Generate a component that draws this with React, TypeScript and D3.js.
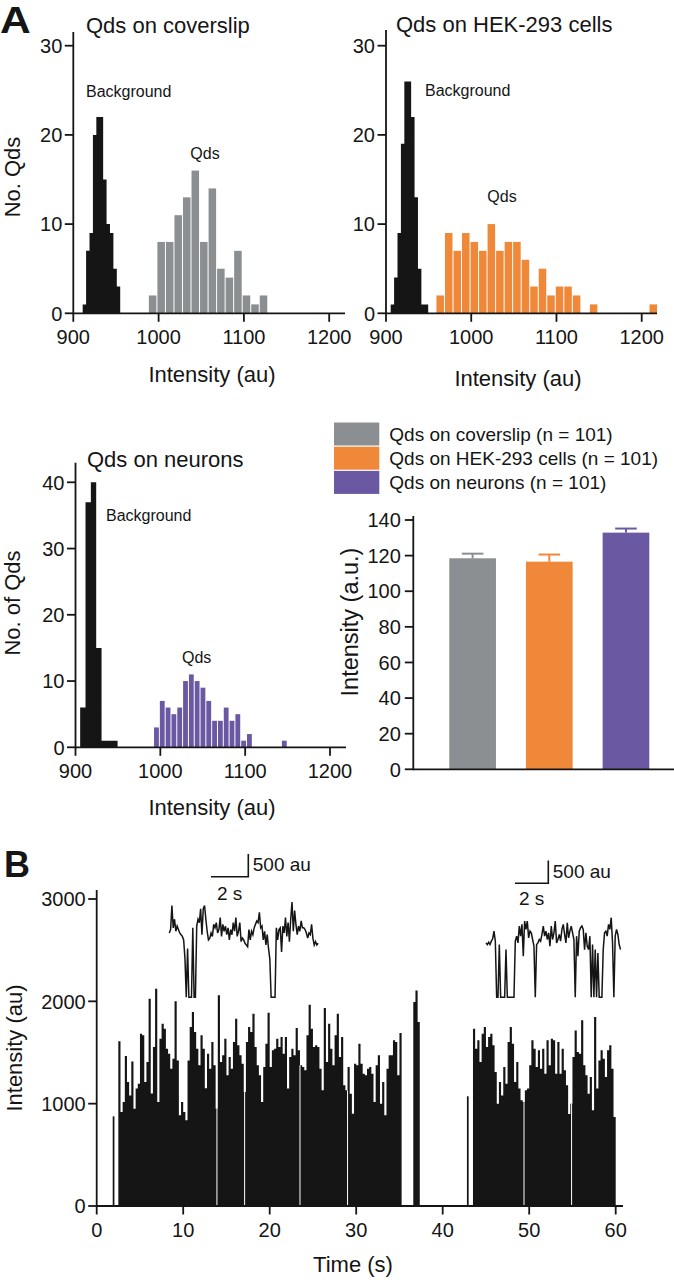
import * as d3 from "d3";

const FONT = "'Liberation Sans', Arial, Helvetica, sans-serif";
const INK = "#151515";
const GRAY = "#8c8f91";
const ORANGE = "#ef8838";
const PURPLE = "#6a58a3";
const TICK = 8.5;

// ---- panel A histograms: [first bin start (au), bin width (au)] + counts ----
const coverBgBins = [911, 4];
const coverBgCounts = [1, 7, 9, 20, 22, 22, 15, 10, 9, 5, 3];
const coverQdBins = [988, 10];
const coverQdCounts = [2, 8, 8, 11, 13, 16, 8, 14, 5, 4, 7, 2, 1, 2];

const hekBgBins = [905.5, 4];
const hekBgCounts = [1, 4, 9, 19, 26, 26, 22, 13, 5, 1, 1];
const hekQdBins = [958.6, 10];
const hekQdCounts = [2, 9, 7, 9, 8, 7, 10, 7, 8, 8, 6, 3, 5, 2, 3, 3, 2, 0, 1, 0, 0, 0, 0, 0, 0, 1];

const neuBgBins = [905.5, 6.3];
const neuBgCounts = [6, 37, 40, 15, 1, 1, 1];
const neuQdBins = [992, 6.85];
const neuQdCounts = [3, 7, 6, 5, 6, 10, 11, 10, 9, 7, 4, 4, 6, 4, 5, 1, 2, 0, 0, 0, 0, 0, 1];

const histXTicks = [900, 1000, 1100, 1200];
const histYTicks30 = [0, 10, 20, 30];
const histYTicks40 = [0, 10, 20, 30, 40];

// ---- panel A bar chart ----
const barGroups = ["Qds on coverslip", "Qds on HEK-293 cells", "Qds on neurons"];
const barN = [101, 101, 101];
const barMeans = [118.5, 116.6, 132.9];
const barSem = [2.6, 4.0, 2.3];
const barColors = [GRAY, ORANGE, PURPLE];
const barYTicks = [0, 20, 40, 60, 80, 100, 120, 140];

// ---- panel B trace (au per 0.25 s bin) ----
const traceDt = 0.25;
const traceSegStarts = [2.5, 36.6, 43.5];
const traceSeg1 = [
  1609, 918, 1016, 1466, 1212, 1081, 1413, 951, 1147, 1195,
  1684, 1668, 1212, 1407, 2026, 1100, 1554, 2124, 1016, 1635,
  1782, 1733, 1537, 1489, 1342, 1440, 2000, 1423, 886, 1016,
  918, 837, 1423, 1749, 1896, 1700, 1537, 1375, 1668, 1537,
  1150, 1489, 1342, 1603, 1375, 951, 2059, 1407, 1472, 1635,
  1277, 1456, 1342, 1603, 1831, 1570, 1472, 1391, 1114, 1603,
  1749, 1700, 1879, 1554, 1375, 1277, 1016, 1358, 1586, 1889,
  1358, 1521, 1537, 1635, 1554, 1651, 1489, 1651, 1147, 1456,
  1537, 1472, 1739, 1521, 1375, 1358, 1326, 1668, 1967, 1733,
  1554, 1570, 1554, 1342, 1130, 1935, 1407, 1782, 1537, 1375,
  1668, 1879, 1456, 1651, 1179, 1130, 1358, 1098, 902, 1391,
  1375, 1586, 1391, 1293, 1277, 1342, 1358, 1293, 1016, 1375,
  1472, 1000, 1212, 886, 1342, 1472, 1472, 1619, 1603, 1277,
  1690,
];
const traceSeg2 = [1993, 2107, 1798];
const traceSeg3 = [
  1733, 1537, 1619, 1407, 1684, 1749, 1554, 1651, 1684, 1570,
  1309, 1000, 1212, 1081, 1358, 1195, 1603, 1749, 1586, 1212,
  1407, 1147, 1033, 1016, 1130, 1147, 1375, 1619, 1537, 1358,
  1521, 1342, 1537, 1293, 1619, 1375, 1635, 1619, 1293, 1603,
  1293, 1537, 1326, 1179, 900, 1000, 1456, 1716, 1505, 1489,
  1814, 1375, 1277, 1098, 1261, 935, 1847, 1147, 1423, 1521,
  1440, 1261, 1521, 1570, 1342, 870,
];
const traceSingleTimes = [1.85, 42.8];
const traceSingleValues = [876, 1072];
const traceGapTimes = [13.9, 17.1, 23.5, 29.0, 49.4, 54.9];
const traceXTicks = [0, 10, 20, 30, 40, 50, 60];
const traceYTicks = [0, 1000, 2000, 3000];

// ---- panel B insets (au, fixed sample interval) ----
const insetLeftDt = 0.07;
const insetLeftValues = [
  1417, 1492, 2023, 1530, 1720, 1455, 1568, 1492, 1417, 1379,
  1341, 1265, 848, 0, 1076, 0, 0, 0, 1530, 0,
  0, 1568, 1720, 1644, 1947, 1379, 1947, 2023, 1720, 1455,
  1265, 1303, 1417, 1341, 1606, 1530, 1644, 1417, 1492, 1758,
  1341, 1606, 1455, 1568, 1379, 1530, 1265, 1492, 1379, 1644,
  1455, 1758, 1341, 1455, 1644, 1227, 1303, 1265, 1189, 1152,
  1114, 1492, 1265, 1455, 1379, 1530, 1606, 1682, 1644, 1871,
  1530, 1568, 1265, 1455, 1152, 1379, 1076, 848, 0, 0,
  0, 0, 1530, 1265, 1492, 1530, 1000, 1568, 1417, 1758,
  1341, 1644, 1227, 1720, 2099, 1455, 1909, 1606, 1379, 1568,
  1455, 1682, 1530, 1530, 1492, 1417, 1303, 1417, 1379, 1606,
  1303, 1152, 1227, 1152, 1189,
];
const insetRightDt = 0.08;
const insetRightValues = [
  1199, 1162, 1214, 1162, 1236, 1288, 1458, 1236, 0, 0,
  1162, 0, 0, 0, 0, 1051, 0, 0, 0, 0,
  0, 0, 1236, 1347, 1199, 1569, 1347, 1606, 903, 1680,
  1495, 1680, 1310, 1458, 1421, 1273, 1125, 0, 1162, 1199,
  1273, 1236, 1384, 1569, 1347, 1458, 1273, 1421, 1125, 1569,
  1273, 1421, 1680, 1199, 1273, 1384, 1236, 1495, 1606, 1384,
  1199, 1643, 1310, 1458, 1569, 1421, 1273, 0, 1347, 903,
  1458, 1532, 1569, 1495, 1051, 1421, 1125, 1051, 1347, 0,
  1162, 0, 1051, 0, 977, 0, 0, 0, 1051, 1421,
  1458, 1347, 1606, 1495, 1754, 1199, 0, 1347, 1495, 1384,
  1162, 1051,
];

// ---- scales ----
const xTL = d3.scaleLinear().domain([900, 1200]).range([73.3, 329.2]);
const yTL = d3.scaleLinear().domain([0, 30]).range([313.3, 45.7]);
const xTR = d3.scaleLinear().domain([900, 1200]).range([386, 641.7]);
const yTR = d3.scaleLinear().domain([0, 30]).range([313.3, 45.7]);
const xBL = d3.scaleLinear().domain([900, 1200]).range([75.5, 330]);
const yBL = d3.scaleLinear().domain([0, 40]).range([747.3, 482.3]);
const yBar = d3.scaleLinear().domain([0, 140]).range([769.3, 520]);
const xBar = d3.scaleBand<string>().domain(barGroups).range([434.3, 664.3]).paddingInner(0.391).paddingOuter(0.1955);
const xB = d3.scaleLinear().domain([0, 60]).range([96.7, 615.7]);
const yB = d3.scaleLinear().domain([0, 3000]).range([1206, 899]);
const xInL = d3.scaleLinear().domain([0, 2]).range([169.3, 206.6]);
const xInR = d3.scaleLinear().domain([0, 2]).range([486, 519.3]);
const yIn = d3.scaleLinear().domain([0, 500]).range([997.3, 974.6]);

// stepped outline of a run of equal-width bins
function stepArea(xs: any, ys: any, start: number, w: number, counts: number[]) {
  const pts = counts.map((c, i) => [start + i * w, c] as [number, number]);
  pts.push([start + counts.length * w, counts[counts.length - 1]]);
  return d3.area<[number, number]>()
    .x((d) => xs(d[0]))
    .y0(ys(0))
    .y1((d) => ys(d[1]))
    .curve(d3.curveStepAfter)(pts) || "";
}

function Hist({ xs, ys, bins, counts, fill, gap }: any) {
  const [start, w] = bins;
  if (!gap) return <path d={stepArea(xs, ys, start, w, counts)} fill={fill} />;
  return (
    <g>
      {counts.map((c: number, i: number) => {
        if (!c) return null;
        const x0 = xs(start + i * w);
        const x1 = xs(start + (i + 1) * w);
        return <rect key={i} x={x0 + gap / 2} width={x1 - x0 - gap} y={ys(c)} height={ys(0) - ys(c)} fill={fill} />;
      })}
    </g>
  );
}

function AxisLeft({ scale, x, ticks, top }: any) {
  const y0 = scale.range()[0];
  return (
    <g>
      <line x1={x} x2={x} y1={top} y2={y0 + 0.9} stroke={INK} strokeWidth={1.8} />
      {ticks.map((t: number) => (
        <g key={t}>
          <line x1={x - TICK} x2={x} y1={scale(t)} y2={scale(t)} stroke={INK} strokeWidth={1.8} />
          <text x={x - TICK - 2.5} y={scale(t)} dy="0.36em" textAnchor="end" fontSize={20}>{t}</text>
        </g>
      ))}
    </g>
  );
}

function AxisBottom({ scale, y, ticks, left, right }: any) {
  return (
    <g>
      <line x1={left} x2={right} y1={y} y2={y} stroke={INK} strokeWidth={1.8} />
      {ticks.map((t: number) => (
        <g key={t}>
          <line x1={scale(t)} x2={scale(t)} y1={y} y2={y + TICK} stroke={INK} strokeWidth={1.8} />
          <text x={scale(t)} y={y + 31} textAnchor="middle" fontSize={20}>{t}</text>
        </g>
      ))}
    </g>
  );
}

function traceValueAt(t: number) {
  const segs = [traceSeg1, traceSeg2, traceSeg3];
  for (let s = 0; s < segs.length; s++) {
    const i = Math.floor((t - traceSegStarts[s]) / traceDt);
    if (i >= 0 && i < segs[s].length) return segs[s][i];
  }
  return 0;
}

function Inset({ xs, values, dt, corner, barLift, labelDrop }: any) {
  const line = d3.line<number>().x((_, i) => xs(i * dt)).y((v) => yIn(v));
  const hLen = xs(2) - xs(0);
  const vLen = yIn(0) - yIn(500);
  const [cx, cy] = corner;
  return (
    <g>
      <path d={line(values) || ""} fill="none" stroke={INK} strokeWidth={1.5} strokeLinejoin="miter" />
      <polyline points={`${cx - hLen},${cy} ${cx},${cy} ${cx},${cy - vLen}`} fill="none" stroke={INK} strokeWidth={1.6} />
      <text x={cx + 4.5} y={cy - barLift} fontSize={19}>500 au</text>
      <text x={cx - hLen / 2} y={cy + labelDrop} textAnchor="middle" fontSize={19}>2 s</text>
    </g>
  );
}

export default function App() {
  const segs = [traceSeg1, traceSeg2, traceSeg3];
  return (
    <div>
      <style>{`body{margin:0}`}</style>
      <svg width={674} height={1280} style={{ display: "block", background: "#fff" }}
        fontFamily={FONT} fill={INK}>
        {/* panel letters */}
        <text x={0} y={33} fontSize={37} fontWeight="bold" transform="translate(0,33) scale(1.15,1) translate(0,-33)">A</text>
        <text x={4} y={877} fontSize={36} fontWeight="bold">B</text>

        {/* top-left histogram */}
        <text x={86} y={33} fontSize={22}>Qds on coverslip</text>
        <Hist xs={xTL} ys={yTL} bins={coverBgBins} counts={coverBgCounts} fill={INK} gap={0} />
        <Hist xs={xTL} ys={yTL} bins={coverQdBins} counts={coverQdCounts} fill={GRAY} gap={1} />
        <AxisLeft scale={yTL} x={73.3} ticks={histYTicks30} top={32} />
        <AxisBottom scale={xTL} y={313.3} ticks={histXTicks} left={73.3} right={345} />
        <text x={86} y={97} fontSize={16}>Background</text>
        <text x={205} y={159} fontSize={16} textAnchor="middle">Qds</text>
        <text transform="translate(20,177) rotate(-90)" textAnchor="middle" fontSize={22}>No. Qds</text>
        <text x={212} y={382} textAnchor="middle" fontSize={22}>Intensity (au)</text>

        {/* top-right histogram */}
        <text x={396} y={32} fontSize={22}>Qds on HEK-293 cells</text>
        <Hist xs={xTR} ys={yTR} bins={hekBgBins} counts={hekBgCounts} fill={INK} gap={0} />
        <Hist xs={xTR} ys={yTR} bins={hekQdBins} counts={hekQdCounts} fill={ORANGE} gap={1} />
        <AxisLeft scale={yTR} x={386} ticks={histYTicks30} top={30} />
        <AxisBottom scale={xTR} y={313.3} ticks={histXTicks} left={386} right={657} />
        <text x={425} y={96} fontSize={16}>Background</text>
        <text x={502} y={201.5} fontSize={16} textAnchor="middle">Qds</text>
        <text x={518} y={386} textAnchor="middle" fontSize={22}>Intensity (au)</text>

        {/* bottom-left histogram */}
        <text x={87} y={467} fontSize={22}>Qds on neurons</text>
        <Hist xs={xBL} ys={yBL} bins={neuBgBins} counts={neuBgCounts} fill={INK} gap={0} />
        <Hist xs={xBL} ys={yBL} bins={neuQdBins} counts={neuQdCounts} fill={PURPLE} gap={1} />
        <AxisLeft scale={yBL} x={75.5} ticks={histYTicks40} top={462.7} />
        <AxisBottom scale={xBL} y={747.3} ticks={histXTicks} left={75.5} right={346} />
        <text x={106} y={520.5} fontSize={16}>Background</text>
        <text x={196.7} y={663} fontSize={16} textAnchor="middle">Qds</text>
        <text transform="translate(20,603) rotate(-90)" textAnchor="middle" fontSize={22}>No. of Qds</text>
        <text x={212} y={815} textAnchor="middle" fontSize={22}>Intensity (au)</text>

        {/* legend */}
        {barGroups.map((g, i) => (
          <g key={g}>
            <rect x={334} y={422.5 + i * 24.2} width={45.3} height={23} fill={barColors[i]} />
            <text x={389.3} y={434 + i * 24.2} dy="0.36em" fontSize={19}>{`${g} (n = ${barN[i]})`}</text>
          </g>
        ))}

        {/* bar chart */}
        {barGroups.map((g, i) => {
          const x = xBar(g) as number;
          const w = xBar.bandwidth();
          const cx = x + w / 2;
          return (
            <g key={g}>
              <rect x={x} y={yBar(barMeans[i])} width={w} height={yBar(0) - yBar(barMeans[i])} fill={barColors[i]} />
              <line x1={cx} x2={cx} y1={yBar(barMeans[i])} y2={yBar(barMeans[i] + barSem[i])} stroke={barColors[i]} strokeWidth={2} />
              <line x1={cx - 10.8} x2={cx + 10.8} y1={yBar(barMeans[i] + barSem[i])} y2={yBar(barMeans[i] + barSem[i])} stroke={barColors[i]} strokeWidth={2} />
            </g>
          );
        })}
        <line x1={413.3} x2={413.3} y1={516} y2={yBar(0) + 0.9} stroke={INK} strokeWidth={1.8} />
        {barYTicks.map((t) => (
          <g key={t}>
            <line x1={413.3 - TICK} x2={413.3} y1={yBar(t)} y2={yBar(t)} stroke={INK} strokeWidth={1.8} />
            <text x={413.3 - TICK - 4} y={yBar(t)} dy="0.36em" textAnchor="end" fontSize={20}>{t}</text>
          </g>
        ))}
        <line x1={413.3} x2={674} y1={yBar(0)} y2={yBar(0)} stroke={INK} strokeWidth={1.8} />
        <text transform="translate(358,622) rotate(-90)" textAnchor="middle" fontSize={23.5}>Intensity (a.u.)</text>

        {/* panel B trace */}
        {traceSingleTimes.map((t, i) => (
          <rect key={`s${i}`} x={xB(t)} width={xB(t + 0.2) - xB(t)} y={yB(traceSingleValues[i])}
            height={yB(0) - yB(traceSingleValues[i])} fill={INK} />
        ))}
        {segs.map((vals, s) => (
          <path key={`seg${s}`} d={stepArea(xB, yB, traceSegStarts[s], traceDt, vals)} fill={INK} />
        ))}
        {traceGapTimes.map((t) => {
          const v = Math.min(traceValueAt(t - 0.1), traceValueAt(t + 0.1));
          return <line key={`g${t}`} x1={xB(t)} x2={xB(t)} y1={yB(0) - 1} y2={yB(v)} stroke="#fff" strokeWidth={1} />;
        })}
        <AxisLeft scale={yB} x={96.7} ticks={traceYTicks} top={890} />
        <AxisBottom scale={xB} y={1206} ticks={traceXTicks} left={96.7} right={623} />
        <text transform="translate(22,1048) rotate(-90)" textAnchor="middle" fontSize={22}>Intensity (au)</text>
        <text x={353} y={1272} textAnchor="middle" fontSize={22}>Time (s)</text>

        {/* insets */}
        <Inset xs={xInL} values={insetLeftValues} dt={insetLeftDt} corner={[248.3, 876.7]} barLift={5.5} labelDrop={23.3} />
        <Inset xs={xInR} values={insetRightValues} dt={insetRightDt} corner={[548.3, 883.3]} barLift={5} labelDrop={21.7} />
      </svg>
    </div>
  );
}
